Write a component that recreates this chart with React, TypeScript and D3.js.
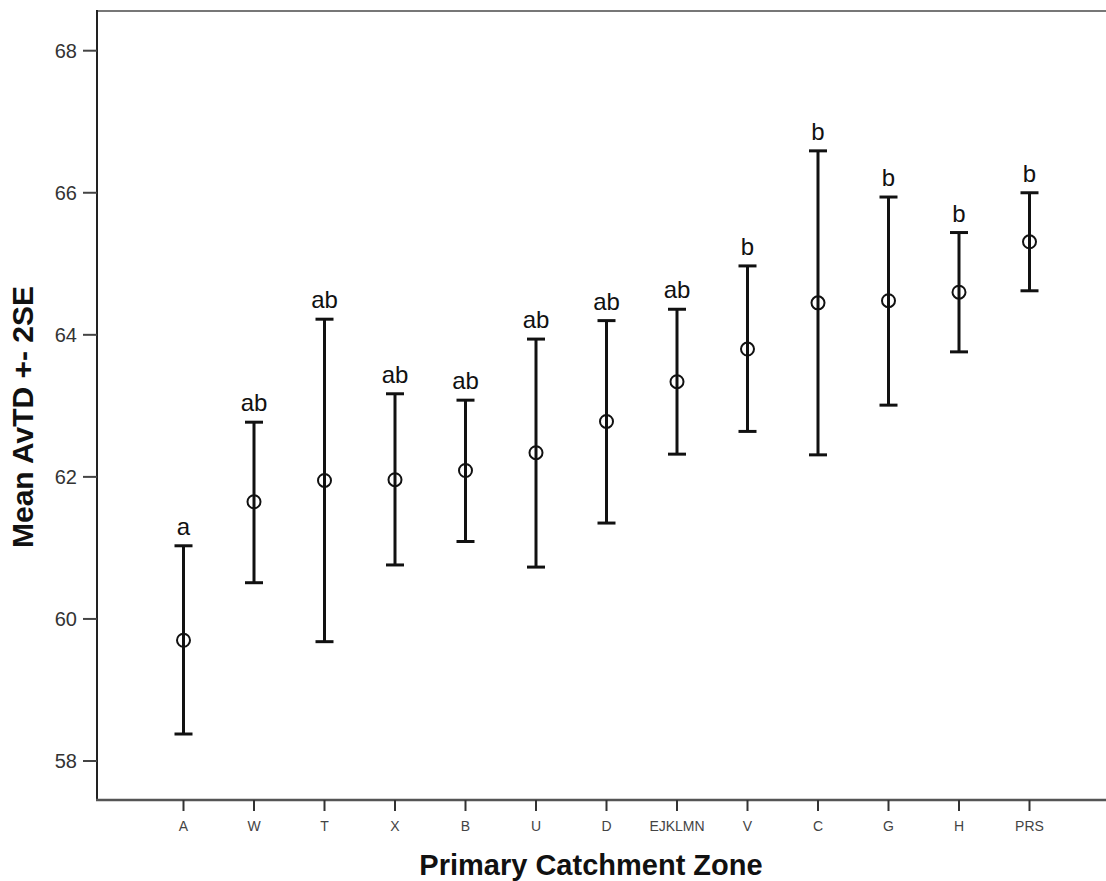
import React from "react";
import * as d3 from "d3";

const categories = ["A", "W", "T", "X", "B", "U", "D", "EJKLMN", "V", "C", "G", "H", "PRS"];
const means = [59.7, 61.65, 61.95, 61.96, 62.09, 62.34, 62.78, 63.34, 63.8, 64.45, 64.48, 64.6, 65.31];
const lowers = [58.38, 60.51, 59.68, 60.76, 61.09, 60.73, 61.35, 62.32, 62.64, 62.31, 63.01, 63.76, 64.62];
const uppers = [61.03, 62.77, 64.22, 63.17, 63.08, 63.94, 64.2, 64.36, 64.97, 66.59, 65.94, 65.44, 66.0];
const groups = ["a", "ab", "ab", "ab", "ab", "ab", "ab", "ab", "b", "b", "b", "b", "b"];
const yTicks = [58, 60, 62, 64, 66, 68];

const FONT = "'Liberation Sans', Arial, Helvetica, sans-serif";

export default function App() {
  const W = 1106;
  const H = 881;
  const left = 97;
  const top = 11;
  const bottom = 800;
  const right = 1116;

  const x = d3.scalePoint<string>().domain(categories).range([183.5, 1029.5]);
  const y = d3.scaleLinear().domain([58, 68]).range([761, 50.7]);

  const capW = 9;

  return (
    <svg width={W} height={H} style={{ position: "absolute", left: 0, top: 0, background: "#fff" }}>
      <rect x={0} y={0} width={W} height={H} fill="#fff" />
      {/* frame */}
      <line x1={left} x2={right} y1={top} y2={top} stroke="#777" strokeWidth={2} />
      <line x1={left} x2={left} y1={top - 1} y2={bottom + 1} stroke="#222" strokeWidth={2} />
      <line x1={left - 1} x2={right} y1={bottom} y2={bottom} stroke="#555" strokeWidth={2.5} />

      {/* y ticks */}
      {yTicks.map((t) => (
        <g key={t}>
          <line x1={83} x2={left} y1={y(t)} y2={y(t)} stroke="#444" strokeWidth={2} />
          <text x={77} y={y(t)} dy="0.36em" textAnchor="end" fontFamily={FONT} fontSize={20} fill="#333">
            {t}
          </text>
        </g>
      ))}

      {/* x ticks */}
      {categories.map((c) => (
        <g key={c}>
          <line x1={x(c)!} x2={x(c)!} y1={bottom} y2={811} stroke="#333" strokeWidth={2} />
          <text x={x(c)!} y={831} textAnchor="middle" fontFamily={FONT} fontSize={14} fill="#444">
            {c}
          </text>
        </g>
      ))}

      {/* error bars */}
      {categories.map((c, i) => {
        const cx = x(c)!;
        const yu = y(uppers[i]);
        const yl = y(lowers[i]);
        const ym = y(means[i]);
        return (
          <g key={"e" + c}>
            <line x1={cx} x2={cx} y1={yu} y2={yl} stroke="#111" strokeWidth={3} />
            <line x1={cx - capW} x2={cx + capW} y1={yu} y2={yu} stroke="#111" strokeWidth={3} />
            <line x1={cx - capW} x2={cx + capW} y1={yl} y2={yl} stroke="#111" strokeWidth={3} />
            <circle cx={cx} cy={ym} r={6.5} fill="none" stroke="#111" strokeWidth={2} />
            <text x={cx} y={yu - 11} textAnchor="middle" fontFamily={FONT} fontSize={24} fill="#111">
              {groups[i]}
            </text>
          </g>
        );
      })}

      {/* axis titles */}
      <text x={591} y={875} textAnchor="middle" fontFamily={FONT} fontSize={29} fontWeight="bold" fill="#111">
        Primary Catchment Zone
      </text>
      <text
        transform="translate(33,548) rotate(-90)"
        textAnchor="start"
        fontFamily={FONT}
        fontSize={30}
        fontWeight="bold"
        fill="#111"
      >
        Mean AvTD +- 2SE
      </text>
    </svg>
  );
}
